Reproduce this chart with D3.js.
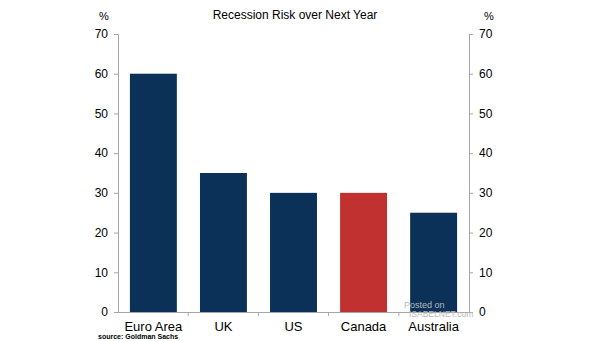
<!DOCTYPE html>
<html>
<head>
<meta charset="utf-8">
<script src="https://cdn.jsdelivr.net/npm/d3@7"></script>
<style>
  body { margin: 0; background: #fff; }
  svg { display: block; font-family: "Liberation Sans", Arial, sans-serif; }
  .axis path, .axis line { stroke: #a6a6a6; }
  .axis text { fill: #000; font-size: 12px; }
</style>
</head>
<body>
<svg class="chart"></svg>
<script>
var categories = ["Euro Area", "UK", "US", "Canada", "Australia"];
var values = [60, 35, 30, 30, 25];
var highlight = ["Canada"];
var yTicks = [0, 10, 20, 30, 40, 50, 60, 70];

const canvas = {width: 605, height: 341};
const margin = {top: 34, left: 118, bottom: 29, right: 136};
const chart_dimensions = {
    width: canvas.width - (margin.left + margin.right),
    height: canvas.height - (margin.top + margin.bottom)
};

const data = categories.map(function(c, i) { return {name: c, value: values[i]}; });

const x_cat = d3.scaleBand()
    .domain(categories)
    .range([0, chart_dimensions.width])
    .paddingInner(0.33)
    .paddingOuter(0.17);

const x_edges = d3.scaleBand()
    .domain(categories)
    .range([0, chart_dimensions.width]);

const y_pct = d3.scaleLinear()
    .domain([0, 70])
    .range([chart_dimensions.height, 0]);

const chart = d3.select(".chart")
    .attr("width", canvas.width)
    .attr("height", canvas.height);

const g = chart.append("g")
    .attr("transform", "translate(" + margin.left + "," + margin.top + ")");

// bars
g.selectAll("rect")
    .data(data)
    .enter().append("rect")
    .attr("x", d => x_cat(d.name))
    .attr("y", d => y_pct(d.value))
    .attr("width", x_cat.bandwidth())
    .attr("height", d => chart_dimensions.height - y_pct(d.value))
    .attr("fill", d => highlight.indexOf(d.name) >= 0 ? "#c0312f" : "#0b3158");

// y axes
g.append("g")
    .attr("class", "axis")
    .call(d3.axisLeft(y_pct).tickValues(yTicks).tickSize(4).tickSizeOuter(4).tickPadding(6));

g.append("g")
    .attr("class", "axis")
    .attr("transform", "translate(" + chart_dimensions.width + ",0)")
    .call(d3.axisRight(y_pct).tickValues(yTicks).tickSize(4).tickSizeOuter(4).tickPadding(6));

// x axis: line with boundary ticks
const xa = g.append("g")
    .attr("class", "axis")
    .attr("transform", "translate(0," + chart_dimensions.height + ")");

xa.append("line")
    .attr("x1", -4).attr("x2", chart_dimensions.width)
    .attr("y1", 0.5).attr("y2", 0.5);

xa.selectAll("line.tick")
    .data(categories.slice(1))
    .enter().append("line")
    .attr("class", "tick")
    .attr("x1", d => x_edges(d)).attr("x2", d => x_edges(d))
    .attr("y1", 0).attr("y2", 4);

xa.selectAll("text")
    .data(categories)
    .enter().append("text")
    .attr("x", d => x_cat(d) + x_cat.bandwidth() / 2)
    .attr("y", 19)
    .attr("text-anchor", "middle")
    .style("font-size", "13px")
    .text(d => d);

// titles
chart.append("text")
    .attr("x", 295).attr("y", 19)
    .attr("text-anchor", "middle")
    .style("font-size", "12px")
    .text("Recession Risk over Next Year");

chart.append("text")
    .attr("x", 104).attr("y", 20)
    .attr("text-anchor", "middle")
    .style("font-size", "11px")
    .text("%");

chart.append("text")
    .attr("x", 489).attr("y", 20)
    .attr("text-anchor", "middle")
    .style("font-size", "11px")
    .text("%");

chart.append("text")
    .attr("x", 98).attr("y", 339)
    .style("font-size", "7px")
    .style("font-weight", "bold")
    .text("source: Goldman Sachs");

// watermark
chart.append("text")
    .attr("x", 404).attr("y", 308)
    .style("font-size", "9px")
    .attr("fill", "#b8b8b8")
    .text("Posted on");

chart.append("text")
    .attr("x", 409).attr("y", 317)
    .style("font-size", "8.5px")
    .attr("fill", "#b8b8b8")
    .text("ISABELNET.com");
</script>
</body>
</html>
